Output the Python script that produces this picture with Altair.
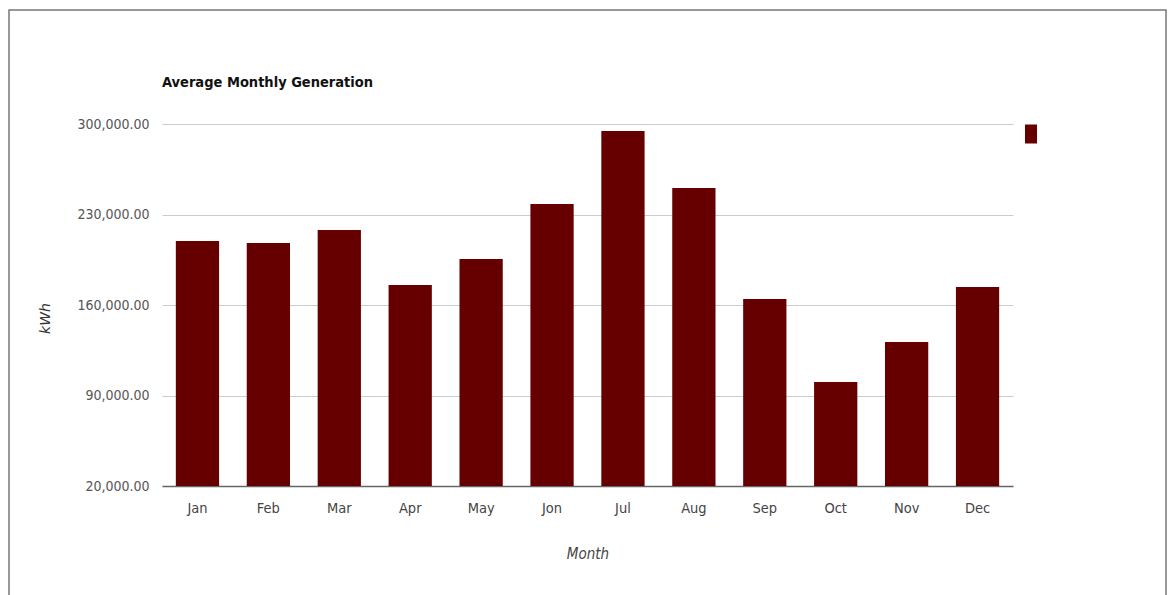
import altair as alt
import pandas as pd

months = ["Jan", "Feb", "Mar", "Apr", "May", "Jon", "Jul", "Aug", "Sep", "Oct", "Nov", "Dec"]
generation = [209500, 208000, 218000, 175500, 195600, 238100, 294600, 250500, 164600, 100400, 131400, 173900]
y_ticks = [20000, 90000, 160000, 230000, 300000]

df = pd.DataFrame({"Month": months, "kWh": generation, "series": [" "] * len(months)})

FONT = "'DejaVu Sans Condensed', 'Liberation Sans', sans-serif"

bars = alt.Chart(df).mark_bar(color="#660000").encode(
    x=alt.X("Month:N", sort=months,
            scale=alt.Scale(paddingInner=0.39, paddingOuter=0.195),
            axis=alt.Axis(title="Month", labelAngle=0, ticks=False, domainColor="#666666",
                          domainWidth=1.5, labelPadding=15, labelFontSize=14.5, labelColor="#444444",
                          labelFont=FONT, titleFont=FONT, titleFontSize=15, titleFontStyle="italic",
                          titleFontWeight="normal", titleColor="#444444", titlePadding=32)),
    y=alt.Y("kWh:Q", scale=alt.Scale(domain=[20000, 300000], zero=False, nice=False),
            axis=alt.Axis(title="kWh", values=y_ticks, format=",.2f", domain=False, ticks=False,
                          gridColor="#cccccc", gridWidth=1.2, labelPadding=13, labelFontSize=14,
                          labelColor="#555555", labelFont=FONT, titleFont="DejaVu Sans",
                          titleFontSize=14, titleFontStyle="italic", titleFontWeight="normal",
                          titleColor="#333333", titleX=-117, titleY=194, titleAngle=270,
                          titleBaseline="middle", titleAlign="center")),
    y2=alt.datum(20000),
    fill=alt.Fill("series:N", scale=alt.Scale(range=["#660000"]),
                  legend=alt.Legend(title=None, orient="none", legendX=859, legendY=0,
                                    symbolType="M-0.6,-0.95L0.6,-0.95L0.6,0.95L-0.6,0.95Z",
                                    symbolSize=400, symbolStrokeWidth=0, symbolOpacity=1,
                                    labelExpr="''")),
)

title = alt.Chart(alt.Data(values=[{"t": "Average Monthly Generation"}])).mark_text(
    font=FONT, fontSize=14.5, fontWeight="bold", color="#111111", align="left", baseline="middle"
).encode(text="t:N", x=alt.value(0), y=alt.value(-41))

border = alt.Chart(alt.Data(values=[{"a": 1}])).mark_rect(
    fill="transparent", stroke="#777777", strokeWidth=1.5
).encode(
    x=alt.value(-153), x2=alt.value(1004), y=alt.value(-114), y2=alt.value(490)
)

chart = alt.layer(bars, title, border).properties(
    width=851, height=362,
    autosize=alt.AutoSizeParams(type="none"),
    padding={"left": 162, "top": 124, "right": 155, "bottom": 109},
    background="white",
).configure_view(stroke=None)

chart.save("out.html", embed_options={"renderer": "svg", "actions": False})
